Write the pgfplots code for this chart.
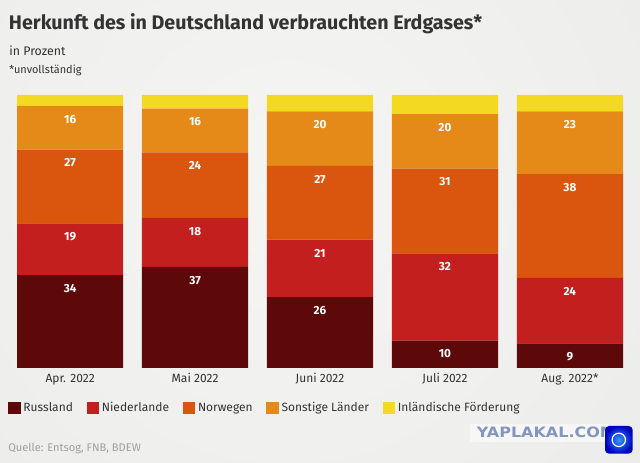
\documentclass[border=0pt]{standalone}
\usepackage{pgfplots}
\pgfplotsset{compat=1.18}
\usepackage{pgfplotstable}
\usepackage{fontspec}
\setmainfont{Fira Sans}
\newfontfamily\wmfont[FakeStretch=1.12]{DejaVu Sans}
\definecolor{cRU}{HTML}{5E0909}
\definecolor{cNL}{HTML}{C41F1F}
\definecolor{cNO}{HTML}{DA560F}
\definecolor{cSO}{HTML}{E58A18}
\definecolor{cIN}{HTML}{F4D923}
\definecolor{txt}{HTML}{333333}
\definecolor{src}{HTML}{A0A0A0}
\definecolor{wm}{HTML}{8396BE}
\definecolor{bgin}{HTML}{F5F5F4}
\definecolor{bgmid}{HTML}{ECECEB}
\definecolor{bgout}{HTML}{D4D4D3}
\pgfdeclareradialshading{bgshade}{\pgfpoint{0bp}{0bp}}{color(0bp)=(bgin); color(25bp)=(bgmid); color(50bp)=(bgout)}

\pgfplotstableread{
x ru nl no so in
0 34 19 27 16 4
1 37 18 24 16 5
2 26 21 27 20 6
3 10 32 31 20 7
4 9 24 38 23 6
}\gasdata

\begin{document}
\begin{tikzpicture}
\useasboundingbox (0,0) rectangle (480pt,-347.25pt);
\begin{scope}
\clip (0,0) rectangle (480pt,-347.25pt);
\shade[shading=bgshade] (215pt,-140pt) circle (340pt);
\end{scope}
\begin{axis}[
  at={(12.75pt,-71.25pt)}, anchor=north west,
  scale only axis, width=454.5pt, height=204.75pt,
  ybar stacked, bar width=0.85,
  xmin=-0.425, xmax=4.425, ymin=0, ymax=100,
  axis line style={draw=none}, tick style={draw=none},
  ytick=\empty,
  xtick={0,1,2,3,4},
  xticklabels={Apr. 2022, Mai 2022, Juni 2022, Juli 2022, Aug. 2022*},
  xticklabel style={anchor=base, yshift=-11.25pt, text=txt, font=\fontsize{9}{10}\selectfont},
  /pgf/number format/assume math mode=true,
  visualization depends on={rawy \as \segh},
  every node near coord/.style={anchor=center, yshift={\segh*1.02375pt-10pt}, text=white, font=\bfseries\fontsize{8.8}{9}\selectfont},
  legend columns=-1,
  legend style={at={(-0.0215,-0.106)}, anchor=north west, draw=none, fill=none,
    font=\fontsize{9}{10}\selectfont, text=txt,
    /tikz/every even column/.append style={column sep=8.3pt}},
  legend image code/.code={\fill[#1] (0pt,-4.5pt) rectangle (9.4pt,4.9pt);},
]
\addplot[fill=cRU, draw=none, nodes near coords, point meta=explicit] table[x=x, y=ru, meta=ru] {\gasdata};
\addplot[fill=cNL, draw=none, nodes near coords, point meta=explicit] table[x=x, y=nl, meta=nl] {\gasdata};
\addplot[fill=cNO, draw=none, nodes near coords, point meta=explicit] table[x=x, y=no, meta=no] {\gasdata};
\addplot[fill=cSO, draw=none, nodes near coords, point meta=explicit] table[x=x, y=so, meta=so] {\gasdata};
\addplot[fill=cIN, draw=none] table[x=x, y=in] {\gasdata};
\legend{Russland, Niederlande, Norwegen, Sonstige Länder, Inländische Förderung}
\end{axis}
\node[anchor=base west, inner sep=0pt, text=txt, font=\bfseries\fontsize{14.75}{16}\selectfont] at (6.5pt,-22.5pt) {Herkunft des in Deutschland verbrauchten Erdgases*};
\node[anchor=base west, inner sep=0pt, text=txt, font=\fontsize{9.3}{10}\selectfont] at (6.75pt,-42pt) {in Prozent};
\node[anchor=base west, inner sep=0pt, text=txt, font=\fontsize{8.2}{10}\selectfont] at (6.75pt,-55.5pt) {*unvollständig};
\node[anchor=base west, inner sep=0pt, text=src, font=\fontsize{8.3}{9}\selectfont] at (6pt,-339pt) {Quelle: Entsog, FNB, BDEW};
\fill[white, opacity=0.5] (352.5pt,-318pt) rectangle (456pt,-331.5pt);
\node[anchor=base west, inner sep=0pt, text=wm, font=\wmfont\bfseries\fontsize{10.7}{12}\selectfont] at (357.5pt,-328.3pt) {YAPLAKAL.COM};
\shade[rounded corners=3pt, inner color=blue!50!cyan!80!white, outer color=blue!75!black] (453.75pt,-319.5pt) rectangle (474.5pt,-340.25pt);
\draw[white, line width=0.9pt] (464.1pt,-329.9pt) circle (5pt);
\end{tikzpicture}
\end{document}
